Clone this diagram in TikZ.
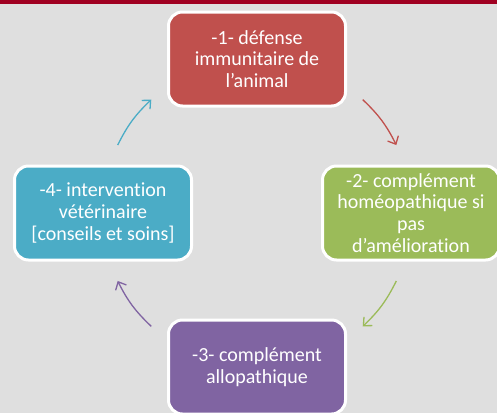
\documentclass[tikz,border=0pt]{standalone}
\usepackage{fontspec}
\setmainfont{Carlito}[Ligatures={NoCommon,NoContextual},RawFeature={-liga;-clig;-dlig}]
\usetikzlibrary{
        arrows.meta,
        positioning
    }
\definecolor{bggray}{HTML}{DFDFDF}
\definecolor{topbar}{HTML}{A00021}
\definecolor{redbox}{HTML}{C0504D}
\definecolor{greenbox}{HTML}{9BBB59}
\definecolor{purplebox}{HTML}{8064A2}
\definecolor{bluebox}{HTML}{4BACC6}
\tikzset{>={Straight Barb[length=6.5pt,width=12pt,line width=1.3pt]},auto,node distance=154pt}

\begin{document}
\begin{tikzpicture}[x=1pt,y=1pt,node distance=154pt]
                    \tikzset{stepbox/.style={rectangle,rounded corners=14pt,draw=white,line width=3pt,
                        text=white,align=center,minimum width=177pt,minimum height=94pt,inner sep=0pt,
                        font=\fontsize{20}{21.8}\selectfont}}
                    \useasboundingbox (0,0) rectangle (497,-413);
                    \clip (0,0) rectangle (497,-413);
                    \fill[bggray] (0,0) rectangle (497,-413);
                    \fill[topbar] (0,0) rectangle (497,-4);

                        \coordinate (c) at (257,-213);
                        \node[stepbox,fill=redbox] (n1) [above of=c] {-1- défense\\immunitaire de\\l’animal};
                        \node[stepbox,fill=greenbox] (n2) [right of=c] {-2- complément\\homéopathique si\\pas\\d’amélioration};
                        \node[stepbox,fill=purplebox] (n3) [below of=c] {-3- complément\\allopathique};
                        \node[stepbox,fill=bluebox] (n4) [left of=c] {-4- intervention\\vétérinaire\\{[conseils et soins]}};

                        \coordinate (a1) at ([shift={(47:155)}]c);
                        \coordinate (b1) at ([shift={(26:155)}]c);
                        \coordinate (a2) at ([shift={(-26:155)}]c);
                        \coordinate (b2) at ([shift={(-47:155)}]c);
                        \coordinate (a3) at ([shift={(-133:155)}]c);
                        \coordinate (b3) at ([shift={(-154:155)}]c);
                        \coordinate (a4) at ([shift={(154:155)}]c);
                        \coordinate (b4) at ([shift={(133:155)}]c);
                    \path[->,line width=1.3pt]
                            (a1)  edge[redbox,bend left=10]  (b1)
                            (a2)  edge[greenbox,bend left=10]  (b2)
                            (a3)  edge[purplebox,bend left=10]  (b3)
                            (a4)  edge[bluebox,bend left=10]  (b4)
                            ;
                    \end{tikzpicture}
\end{document}
